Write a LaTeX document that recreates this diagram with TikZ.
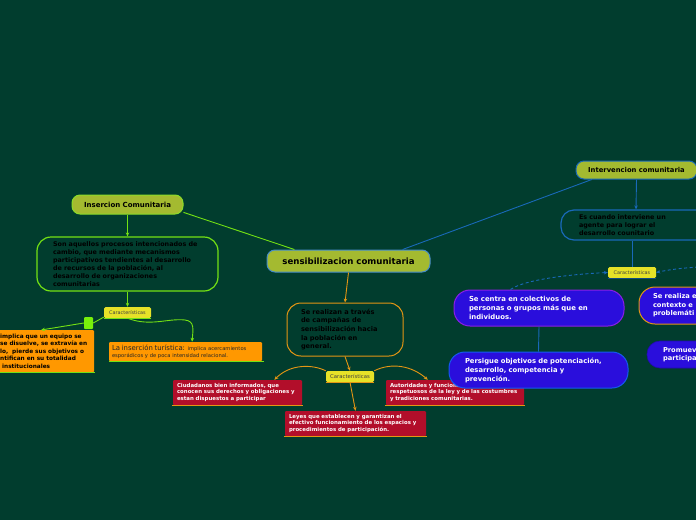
\documentclass[tikz,border=0pt]{standalone}
\usepackage{fontspec}
\setmainfont{DejaVu Sans}
\usetikzlibrary{arrows.meta}
\definecolor{bg}{RGB}{1,61,46}
\definecolor{olive}{RGB}{164,186,48}
\definecolor{bluebd}{RGB}{70,140,200}
\definecolor{lgrn}{RGB}{140,220,40}
\definecolor{grn}{RGB}{115,225,20}
\definecolor{grnsq}{RGB}{120,240,10}
\definecolor{yelw}{RGB}{230,226,40}
\definecolor{orng}{RGB}{255,152,0}
\definecolor{orbd}{RGB}{228,150,20}
\definecolor{crim}{RGB}{178,14,42}
\definecolor{bfill}{RGB}{42,14,220}
\definecolor{purbd}{RGB}{140,30,230}
\definecolor{pblue}{RGB}{20,90,240}
\definecolor{bline}{RGB}{25,105,185}
\newcommand{\ml}[1]{\mbox{#1}}
\tikzset{
  olivebox/.style={fill=olive, rounded corners=8pt, line width=1pt, inner sep=0pt, text=black},
  cars/.style={fill=yelw, rounded corners=1.5pt, inner sep=0pt, minimum width=48pt, minimum height=11pt, font=\fontsize{4.9}{5}\selectfont, text=black!75},
  redbox/.style={fill=crim, rounded corners=1pt, inner ysep=0pt, inner xsep=4pt, minimum height=25pt, align=left, text=white, font=\bfseries\fontsize{5.4}{6.8}\selectfont},
  bluebox/.style={fill=bfill, rounded corners=16pt, line width=1pt, inner ysep=0pt, align=left, text=white},
  arr/.style={-{Stealth[length=4pt,width=3.5pt]}},
  gline/.style={draw=grn, line width=0.9pt},
  oline/.style={draw=orbd, line width=0.9pt},
  bl/.style={draw=bline, line width=0.9pt},
}
\begin{document}
\begin{tikzpicture}[x=1pt,y=-1pt]
\useasboundingbox (0,0) rectangle (696,520);
\fill[bg] (0,0) rectangle (696,520);
\clip (0,0) rectangle (696,520);

% central
\node[olivebox, draw=bluebd, minimum width=163pt, minimum height=22pt, font=\bfseries\fontsize{8.6}{9}\selectfont] (central) at (348.5,261) {sensibilizacion comunitaria};

% insercion branch
\node[olivebox, draw=lgrn, minimum width=111pt, minimum height=19pt, font=\bfseries\fontsize{7}{8}\selectfont] (insercion) at (127.5,204.5) {Insercion Comunitaria};
\node[draw=grn, line width=1.2pt, rounded corners=14pt, minimum height=54pt, text width=149pt, inner xsep=16pt, inner ysep=0pt, align=left, text=black, font=\bfseries\fontsize{6.4}{8}\selectfont] (insdesc) at (127.5,264) {\ml{Son aquellos procesos intencionados de}\\\ml{cambio, que mediante mecanismos}\\\ml{participativos tendientes al desarrollo}\\\ml{de recursos de la población, al}\\\ml{desarrollo de organizaciones}\\\ml{comunitarias}};
\node[cars, minimum width=47pt] (car1) at (127.5,312.5) {Características};
\draw[gline] (car1.south west) -- (car1.south east);
\node[fill=grnsq, rounded corners=1pt, minimum width=9pt, minimum height=12pt, inner sep=0pt] (gsq) at (88.5,323) {};
\node[fill=orng, rounded corners=1pt, anchor=north west, minimum height=42pt, text width=89pt, inner xsep=5pt, inner ysep=0pt, align=left, text=black, font=\bfseries\fontsize{5.8}{7.5}\selectfont] (orleft) at (-5,330) {\ml{implica que un equipo se}\\\ml{se disuelve, se extravía en}\\\ml{lo,\ \ pierde sus objetivos o}\\\ml{ntifican en su totalidad}\\\ml{\ institucionales}};
\draw[gline] (orleft.south west) -- ([xshift=1pt]orleft.south east);
\node[fill=orng, rounded corners=1pt, minimum width=153pt, minimum height=19pt, text width=147pt, inner xsep=3pt, inner ysep=0pt, align=left, text=black!85, font=\fontsize{5.2}{7}\selectfont] (turistica) at (185.5,351.5) {\ml{{\fontsize{6.9}{7}\selectfont La inserción turística:} implica acercamientos}\\\ml{esporádicos y de poca intensidad relacional.}};
\draw[gline] (turistica.south west) -- ([xshift=2pt]turistica.south east);
\coordinate (olarrow) at (41,330);

\draw[gline] (insercion.-8) -- (central.168);
\draw[gline, arr] (insercion.south) -- (insdesc.north);
\draw[gline, arr] (insdesc.south) -- (car1.north);
\draw[gline] (car1.191) -- (gsq.east);
\draw[gline, arr] (gsq.west) -- (olarrow);
\draw[gline, arr] (car1.south) .. controls (150,327) and (168,318) .. (185,320) .. controls (195,321) and (193,330) .. (turistica.56);

% sensibilizacion branch
\node[draw=orbd, line width=1pt, rounded corners=14pt, minimum height=53pt, text width=88pt, inner xsep=14pt, inner ysep=0pt, align=left, text=black, font=\bfseries\fontsize{6.6}{8.7}\selectfont] (realizan) at (345,329.5) {\ml{Se realizan a través}\\\ml{de campañas de}\\\ml{sensibilización hacia}\\\ml{la población en}\\\ml{general.}};
\node[cars] (car2) at (350,376.5) {\fontsize{5.3}{5}\selectfont Características};
\draw[oline, line width=1.2pt] (car2.south west) -- (car2.south east);
\node[redbox, text width=121pt] (red1) at (237.5,392.5) {\ml{Ciudadanos bien informados, que}\\\ml{conocen sus derechos y obligaciones y}\\\ml{estan dispuestos a participar}};
\draw[oline] ([xshift=-1pt]red1.south west) -- ([xshift=1pt]red1.south east);
\node[redbox, text width=133pt] (red2) at (355.5,423.5) {\ml{Leyes que establecen y garantizan el}\\\ml{efectivo funcionamiento de los espacios y}\\\ml{procedimientos de participación.}};
\draw[oline] ([xshift=-1pt]red2.south west) -- ([xshift=1pt]red2.south east);
\node[redbox, text width=130pt] (red3) at (455,392.5) {\ml{Autoridades y funcionarios}\\\ml{respetuosos de la ley y de las costumbres}\\\ml{y tradiciones comunitarias.}};
\draw[oline] ([xshift=-1pt]red3.south west) -- ([xshift=1pt]red3.south east);

\draw[oline, arr] (central.south) -- (realizan.north);
\draw[oline, arr] (realizan.south) -- (car2.north);
\draw[oline, arr] (car2.north west) .. controls (312,364) and (290,364) .. (red1.19);
\draw[oline, arr] (car2.north east) .. controls (392,362) and (412,366) .. (red3.155);
\draw[oline, arr] (car2.south) -- (red2.north);

% intervencion branch
\node[olivebox, draw=bline, minimum width=121pt, minimum height=18pt, font=\bfseries\fontsize{6.8}{8}\selectfont] (interv) at (636.5,170) {Intervencion comunitaria};
\node[draw=bline, line width=1.2pt, rounded corners=13pt, minimum height=30pt, text width=114pt, inner xsep=18pt, inner ysep=0pt, align=left, text=black, font=\bfseries\fontsize{6.4}{8.3}\selectfont] (escuando) at (636,225) {\ml{Es cuando interviene un}\\\ml{agente para lograr el}\\\ml{desarrollo counitario}};
\node[cars] (car3) at (632,272.5) {Características};
\draw[bl, draw=bline!70!black] (car3.south west) -- (car3.south east);

\node[bluebox, draw=purbd, minimum width=170pt, minimum height=36pt, text width=140pt, inner xsep=15pt, font=\bfseries\fontsize{6.9}{9}\selectfont] (sec) at (539,308) {\ml{Se centra en colectivos de}\\\ml{personas o grupos más que en}\\\ml{individuos.}};
\node[bluebox, draw=pblue, minimum width=179pt, minimum height=36pt, text width=147pt, inner xsep=16pt, font=\bfseries\fontsize{6.8}{9}\selectfont] (pers) at (538.5,370) {\ml{Persigue objetivos de potenciación,}\\\ml{desarrollo, competencia y}\\\ml{prevención.}};
\node[bluebox, draw=orbd, minimum width=130pt, minimum height=37pt, text width=102pt, inner xsep=14pt, font=\bfseries\fontsize{6.7}{8.5}\selectfont] (serea) at (704,305.5) {\ml{Se realiza e}\\\ml{contexto e}\\\ml{problemáti}};
\node[bluebox, draw=bfill!80!black, line width=0.6pt, rounded corners=13pt, minimum width=126pt, minimum height=27pt, text width=94pt, inner xsep=16pt, font=\bfseries\fontsize{6.7}{8.5}\selectfont] (prom) at (710,354.5) {\ml{Promuev}\\\ml{participa}};
\coordinate (offr) at (720,266);

\draw[bl] (central.12) -- (interv.192);
\draw[bl, arr] (interv.south) -- (escuando.north);
\draw[bl] (escuando.south -| car3.north) -- (car3.north);
\draw[bl] (sec.south) -- (pers.north);
\draw[bl, dashed, dash pattern=on 3pt off 2.5pt, arr] (sec.147) .. controls (525,279) and (575,274) .. (car3.west);
\draw[bl, dashed, dash pattern=on 3pt off 2.5pt, arr] (offr) .. controls (690,267) and (672,269) .. (car3.east);
\end{tikzpicture}
\end{document}
